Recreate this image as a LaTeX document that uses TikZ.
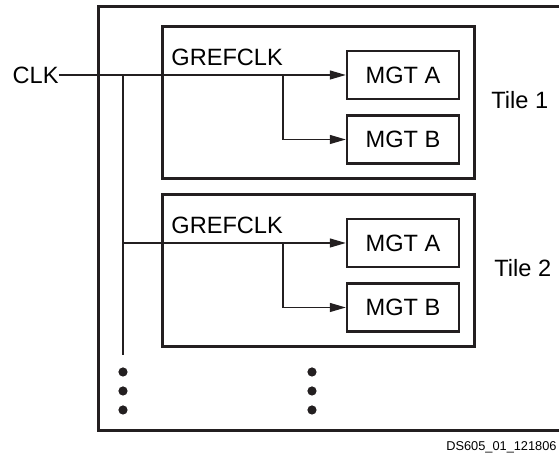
\documentclass[tikz,border=0pt]{standalone}
\usepackage{fontspec}
\setmainfont{Liberation Sans}
\usepackage{xcolor}
\definecolor{cLine}{HTML}{231F20}
\usetikzlibrary{positioning,arrows.meta}
\tikzset{
  tile-box/.style={draw=cLine,line width=1.5pt,minimum width=156pt,
    minimum height=76pt,inner sep=0pt},
  mgt-box/.style={draw=cLine,line width=1.2pt,minimum width=56pt,
    minimum height=24pt,inner sep=0pt,font=\fontsize{11.8}{14}\selectfont},
  lbl/.style={font=\fontsize{11.8}{14}\selectfont,inner sep=0pt},
  wire/.style={draw=cLine,line width=0.6pt},
  arrow/.style={wire,-{Triangle[length=8pt,width=4.5pt]}},
  dot/.style={circle,fill=cLine,inner sep=0pt,minimum size=4.6pt},
}

\begin{document}
\begin{tikzpicture}[x=0.5pt,y=-0.5pt]
  \useasboundingbox (0,0) rectangle (559,453);
  \clip (0,0) rectangle (559,453);
  % device outline, cut at the right
  \draw[cLine,line width=1.5pt] (580,7) -| (99,431) -- (580,431);
  \node[tile-box] (tile1) at (319,103) {};
  \node[tile-box] (tile2) at (319,271) {};
  \node[mgt-box] (mgta1) at (403,75)    {MGT A};
  \node[mgt-box] (mgtb1) at (403,139.5) {MGT B};
  \node[mgt-box] (mgta2) at (403,243)   {MGT A};
  \node[mgt-box] (mgtb2) at (403,307.5) {MGT B};
  \node[lbl,anchor=east]       (clk)   at (59,75)   {CLK};
  \node[lbl,anchor=base west]  (gref1) at (171,66)  {GREFCLK};
  \node[lbl,anchor=base west]  (gref2) at (171,234) {GREFCLK};
  \node[lbl,anchor=west]       (tl1)   at (491,100) {Tile 1};
  \node[lbl,anchor=west]       (tl2)   at (494,268) {Tile 2};
  \node[font=\fontsize{6.4}{8}\selectfont,anchor=east,inner sep=0pt]
    (ds) at (557,447) {DS605\_01\_121806};
  \coordinate (bus)    at (123,75);
  \coordinate (busend) at (123,355);
  \coordinate (br1)    at (283,75);
  \coordinate (br2)    at (283,243);
  \draw[arrow] (clk.east) -- (mgta1.west);
  \draw[arrow] (br1) |- (mgtb1.west);
  \draw[wire]  (bus) -- (busend);
  \draw[arrow] (bus |- mgta2) -- (mgta2.west);
  \draw[arrow] (br2) |- (mgtb2.west);
  \foreach \y in {372,391,410} {
    \node[dot] at (123,\y) {};
    \node[dot] at (312,\y) {};
  }
\end{tikzpicture}
\end{document}
